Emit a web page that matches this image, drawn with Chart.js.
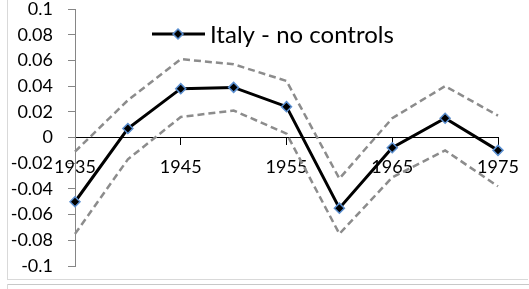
<!DOCTYPE html>
<html><head><meta charset="utf-8">
<script src="https://cdn.jsdelivr.net/npm/chart.js@4"></script>
<style>
html,body{margin:0;padding:0;background:#fff;width:529px;height:289px;overflow:hidden}
#wrap{position:relative;width:529px;height:289px}
canvas{position:absolute;left:0;top:0}
.f{position:absolute;background:#d9d9d9}
</style></head>
<body><div id="wrap"><canvas id="c" width="529" height="289"></canvas>
<div class="f" style="left:7px;top:0;width:1px;height:280px"></div>
<div class="f" style="left:7px;top:279px;width:521px;height:1px"></div>
<div class="f" style="left:7px;top:284px;width:522px;height:1px;background:#c8c8c8"></div>
<div class="f" style="left:7px;top:284px;width:1px;height:5px"></div>
</div>
<script>
const years = ['1935','1940','1945','1950','1955','1960','1965','1970','1975'];
const estimate = [-0.050, 0.007, 0.038, 0.039, 0.024, -0.055, -0.008, 0.015, -0.010];
const upperBand = [-0.011, 0.029, 0.061, 0.057, 0.044, -0.032, 0.015, 0.040, 0.017];
const lowerBand = [-0.075, -0.017, 0.016, 0.021, 0.003, -0.075, -0.031, -0.010, -0.038];
const seriesName = 'Italy - no controls';
const yTicks = [-0.1, -0.08, -0.06, -0.04, -0.02, 0, 0.02, 0.04, 0.06, 0.08, 0.1];

const FONT = 'Lato';
const TXT = '#000';

const legendPlugin = {
  id: 'xlLegend',
  afterDraw(chart) {
    const ctx = chart.ctx, a = chart.chartArea;
    const y = a.top + 25, x0 = a.left + 77;
    ctx.save();
    ctx.strokeStyle = '#000'; ctx.lineWidth = 3;
    ctx.beginPath(); ctx.moveTo(x0, y); ctx.lineTo(x0 + 53, y); ctx.stroke();
    const cx = x0 + 26, r = 5;
    ctx.beginPath(); ctx.moveTo(cx, y - r); ctx.lineTo(cx + r, y); ctx.lineTo(cx, y + r); ctx.lineTo(cx - r, y); ctx.closePath();
    ctx.fillStyle = '#000'; ctx.fill(); ctx.strokeStyle = '#5b8fd0'; ctx.lineWidth = 1.5; ctx.stroke();
    ctx.fillStyle = TXT; ctx.font = '24px ' + FONT; ctx.textBaseline = 'middle'; ctx.textAlign = 'left';
    ctx.fillText(seriesName, x0 + 58, y + 1);
    ctx.restore();
  }
};

new Chart(document.getElementById('c'), {
  type: 'line',
  data: {
    labels: years,
    datasets: [
      {label: seriesName, data: estimate, borderColor: '#000', borderWidth: 3, pointStyle: 'rectRot',
       pointRadius: 5, pointBackgroundColor: '#000', pointBorderColor: '#5b8fd0', pointBorderWidth: 1.5, tension: 0, order: 0},
      {label: 'upper', data: upperBand, borderColor: '#8c8c8c', borderWidth: 2.5, borderDash: [7,4], pointRadius: 0, tension: 0, order: 1},
      {label: 'lower', data: lowerBand, borderColor: '#8c8c8c', borderWidth: 2.5, borderDash: [7,4], pointRadius: 0, tension: 0, order: 1}
    ]
  },
  options: {
    responsive: false, animation: false, devicePixelRatio: 1,
    layout: {padding: {left: 0, right: 31, top: 9, bottom: 23}},
    plugins: {legend: {display: false}, tooltip: {enabled: false}},
    scales: {
      x: {
        position: {y: 0},
        offset: false,
        grid: {drawOnChartArea: false, drawTicks: true, tickLength: 7, color: '#000', lineWidth: 1},
        border: {color: '#000', width: 1},
        ticks: {autoSkip: false, maxRotation: 0, padding: 12, color: TXT, font: {family: FONT, size: 18},
          callback: function(v, i) { return i % 2 === 0 ? years[i] : null; }},
        afterFit: s => { s.height = 0; s.paddingLeft = 0; s.paddingRight = 0; }
      },
      y: {
        min: yTicks[0], max: yTicks[yTicks.length - 1],
        afterBuildTicks: s => { s.ticks = yTicks.map(v => ({value: v})); },
        grid: {drawOnChartArea: false, drawTicks: true, tickLength: 7, color: '#868686'},
        border: {color: '#868686', width: 1},
        ticks: {padding: 15, color: TXT, font: {family: FONT, size: 18},
          callback: v => String(Number(v.toFixed(2)))},
        afterFit: s => { s.width = 75; s.paddingTop = 0; s.paddingBottom = 0; }
      }
    }
  },
  plugins: [legendPlugin]
});
</script>
</body></html>
